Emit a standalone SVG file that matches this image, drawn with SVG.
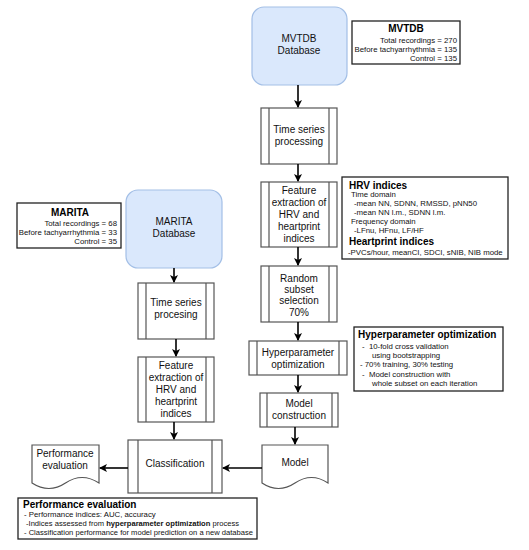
<svg xmlns="http://www.w3.org/2000/svg" width="529" height="550" viewBox="0 0 529 550">
<defs>
<marker id="ah" markerWidth="8" markerHeight="8" refX="7" refY="4" orient="auto" markerUnits="userSpaceOnUse">
<path d="M0,0 L8,4 L0,8 L2,4 Z" fill="#000"/>
</marker>
<style>
.db{fill:#dae8fc;stroke:#a3bfe6;stroke-width:1.2}
.pr{fill:#fff;stroke:#555;stroke-width:1.2}
.pl{stroke:#555;stroke-width:1.2;fill:none}
.info{fill:#fff;stroke:#222;stroke-width:1.3}
.t{font-family:"Liberation Sans",Arial,sans-serif;font-size:10px;fill:#111;text-anchor:middle}
.s{font-family:"Liberation Sans",Arial,sans-serif;font-size:7.8px;fill:#111}
.h{font-family:"Liberation Sans",Arial,sans-serif;font-size:10px;font-weight:bold;fill:#000}
.c{stroke:#000;stroke-width:1.6;fill:none;marker-end:url(#ah)}
</style>
</defs>
<rect width="529" height="550" fill="#fff"/>

<g id="mvtdb-db">
<rect class="db" x="252" y="7" width="95" height="78" rx="12"/>
<text class="t" x="299" y="42">MVTDB</text>
<text class="t" x="299" y="54">Database</text>
</g>
<g id="mvtdb-info">
<rect class="info" x="352" y="21" width="108" height="43"/>
<text class="h" x="406" y="32" text-anchor="middle">MVTDB</text>
<text class="s" x="457" y="43" text-anchor="end">Total recordings = 270</text>
<text class="s" x="457" y="52" text-anchor="end">Before tachyarrhythmia = 135</text>
<text class="s" x="457" y="61" text-anchor="end">Control = 135</text>
</g>
<g id="ts1">
<rect class="pr" x="261" y="108" width="76" height="56"/>
<path class="pl" d="M269,108V164M329,108V164"/>
<text class="t" x="299" y="133">Time series</text>
<text class="t" x="299" y="145">processing</text>
</g>
<g id="fe1">
<rect class="pr" x="261" y="182" width="76" height="65"/>
<path class="pl" d="M269,182V247M329,182V247"/>
<text class="t" x="299" y="194">Feature</text>
<text class="t" x="299" y="206">extraction of</text>
<text class="t" x="299" y="218">HRV and</text>
<text class="t" x="299" y="230">heartprint</text>
<text class="t" x="299" y="242">indices</text>
</g>
<g id="hrv-info">
<rect class="info" x="342" y="177" width="166" height="82"/>
<text class="h" x="349" y="189">HRV indices</text>
<text class="s" x="351" y="197">Time domain</text>
<text class="s" x="354" y="206">-mean NN, SDNN, RMSSD, pNN50</text>
<text class="s" x="354" y="215">-mean NN l.m., SDNN l.m.</text>
<text class="s" x="351" y="224">Frequency domain</text>
<text class="s" x="354" y="233">-LFnu, HFnu, LF/HF</text>
<text class="h" x="349" y="245">Heartprint indices</text>
<text class="s" x="348" y="255">-PVCs/hour, meanCI, SDCI, sNIB, NIB mode</text>
</g>
<g id="rs">
<rect class="pr" x="261" y="266" width="76" height="56"/>
<path class="pl" d="M269,266V322M329,266V322"/>
<text class="t" x="299" y="282">Random</text>
<text class="t" x="299" y="293">subset</text>
<text class="t" x="299" y="304">selection</text>
<text class="t" x="299" y="316">70%</text>
</g>
<g id="hp">
<rect class="pr" x="249" y="341" width="98" height="34"/>
<path class="pl" d="M257,341V375M339,341V375"/>
<text class="t" x="298" y="356">Hyperparameter</text>
<text class="t" x="298" y="368">optimization</text>
</g>
<g id="hp-info">
<rect class="info" x="354" y="327" width="149" height="64"/>
<text class="h" x="358" y="338">Hyperparameter optimization</text>
<text class="s" x="362" y="349" xml:space="preserve">-  10-fold cross validation</text>
<text class="s" x="372" y="358">using bootstrapping</text>
<text class="s" x="360" y="367">- 70% training, 30% testing</text>
<text class="s" x="362" y="377" xml:space="preserve">-  Model construction with</text>
<text class="s" x="372" y="386">whole subset on each iteration</text>
</g>
<g id="mc">
<rect class="pr" x="260" y="393" width="78" height="34"/>
<path class="pl" d="M267,393V427M332,393V427"/>
<text class="t" x="299" y="407">Model</text>
<text class="t" x="299" y="419">construction</text>
</g>
<g id="model">
<path class="pr" d="M262,445H328V483Q311.5,472 295,483Q278.5,494 262,483Z"/>
<text class="t" x="295" y="466">Model</text>
</g>

<g id="marita-info">
<rect class="info" x="17" y="203" width="104" height="45"/>
<text class="h" x="70" y="216" text-anchor="middle">MARITA</text>
<text class="s" x="117" y="226" text-anchor="end">Total recordings = 68</text>
<text class="s" x="117" y="235" text-anchor="end">Before tachyarrhythmia = 33</text>
<text class="s" x="117" y="244" text-anchor="end">Control = 35</text>
</g>
<g id="marita-db">
<rect class="db" x="126" y="190" width="96" height="78" rx="12"/>
<text class="t" x="174" y="225">MARITA</text>
<text class="t" x="174" y="237">Database</text>
</g>
<g id="ts2">
<rect class="pr" x="138" y="283" width="76" height="56"/>
<path class="pl" d="M146,283V339M206,283V339"/>
<text class="t" x="176" y="306">Time series</text>
<text class="t" x="176" y="318">procesing</text>
</g>
<g id="fe2">
<rect class="pr" x="138" y="357" width="76" height="65"/>
<path class="pl" d="M146,357V422M206,357V422"/>
<text class="t" x="176" y="369">Feature</text>
<text class="t" x="176" y="381">extraction of</text>
<text class="t" x="176" y="393">HRV and</text>
<text class="t" x="176" y="405">heartprint</text>
<text class="t" x="176" y="417">indices</text>
</g>
<g id="classification">
<rect class="pr" x="128" y="440" width="94" height="53"/>
<path class="pl" d="M138,440V493M212,440V493"/>
<text class="t" x="175" y="467">Classification</text>
</g>
<g id="perf-doc">
<path class="pr" d="M32,445H99V483Q82,472 65.5,483Q49,494 32,483Z"/>
<text class="t" x="65" y="457">Performance</text>
<text class="t" x="65" y="469">evaluation</text>
</g>
<g id="perf-info">
<rect class="info" x="18" y="498" width="239" height="41"/>
<text class="h" x="23" y="508">Performance evaluation</text>
<text class="s" x="24" y="517">- Performance indices: AUC, accuracy</text>
<text class="s" x="26" y="526" textLength="213" lengthAdjust="spacingAndGlyphs">-Indices assessed from <tspan font-weight="bold">hyperparameter optimization</tspan> process</text>
<text class="s" x="24" y="535" textLength="229" lengthAdjust="spacingAndGlyphs">- Classification performance for model prediction on a new database</text>
</g>

<g id="connectors">
<path class="c" d="M298,85V107"/>
<path class="c" d="M298,164V181"/>
<path class="c" d="M298,247V265"/>
<path class="c" d="M298,322V340"/>
<path class="c" d="M298,375V392"/>
<path class="c" d="M295,427V444"/>
<path class="c" d="M174,268V282"/>
<path class="c" d="M176,339V356"/>
<path class="c" d="M174,422V439"/>
<path class="c" d="M262,468H223"/>
<path class="c" d="M128,468H100"/>
</g>
</svg>
